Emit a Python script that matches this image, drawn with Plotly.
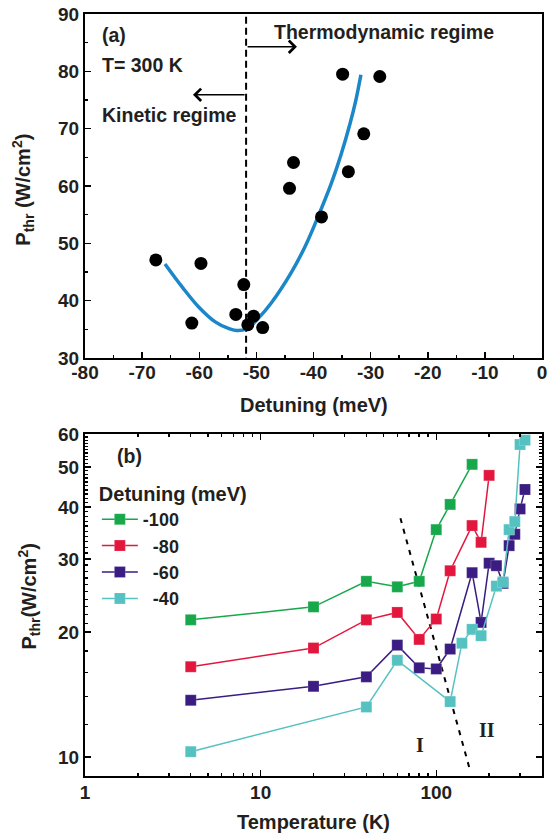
import numpy as np
import plotly.graph_objects as go

# ---------------- Panel (a) data ----------------
detuning_pts = [-67.6, -59.7, -61.3, -52.2, -53.6, -51.5, -50.5, -48.9, -44.2, -43.5, -38.6, -34.9, -33.9, -31.2, -28.4]
pthr_pts = [47.1, 46.5, 36.1, 42.8, 37.6, 35.8, 37.3, 35.3, 59.6, 64.1, 54.6, 79.5, 62.5, 69.1, 79.1]

fit_x = [-66.0, -63.0, -60.1, -57.2, -55.0, -53.5, -51.7, -49.6, -47.4, -43.9, -41.3, -39.1, -36.9, -35.2, -33.6, -32.6, -31.7]
fit_y = [46.4, 42.4, 38.9, 36.3, 35.2, 34.8, 35.1, 37.0, 39.6, 44.9, 49.8, 54.9, 60.4, 65.4, 70.9, 74.9, 79.4]

boundary_a_x = [-51.8, -51.8]
boundary_a_y = [89.5, 30.0]

# ---------------- Panel (b) data ----------------
temps_100 = [4, 20, 40, 60, 80, 100, 120, 160]
p_100 = [21.4, 23.0, 26.5, 25.7, 26.5, 35.3, 40.6, 50.7]
temps_80 = [4, 20, 40, 60, 80, 100, 120, 160, 180, 200]
p_80 = [16.5, 18.3, 21.4, 22.3, 19.2, 21.5, 28.1, 36.1, 32.9, 47.7]
temps_60 = [4, 20, 40, 60, 80, 100, 120, 160, 180, 200, 220, 240, 260, 280, 300, 320]
p_60 = [13.7, 14.8, 15.6, 18.6, 16.4, 16.3, 18.2, 27.8, 21.1, 29.3, 28.9, 26.2, 32.3, 34.4, 39.6, 44.1]
temps_40 = [4, 40, 60, 120, 140, 160, 180, 220, 240, 260, 280, 300, 320]
p_40 = [10.3, 13.2, 17.1, 13.6, 18.8, 20.3, 19.6, 25.8, 26.4, 35.3, 36.9, 56.6, 58.0]

series_names = ["-100", "\u00a0\u00a0-80", "\u00a0\u00a0-60", "\u00a0\u00a0-40"]
series_colors = ["#17a84b", "#e3173d", "#3a1c82", "#55c1c1"]

boundary_b_T = [62.5, 154.0]
boundary_b_P = [37.6, 9.45]

x_ticks_a = [-80, -70, -60, -50, -40, -30, -20, -10, 0]
y_ticks_a = [30, 40, 50, 60, 70, 80, 90]
x_ticks_b = [1, 10, 100]
x_minor_b = [2, 3, 4, 5, 6, 7, 8, 9, 20, 30, 40, 50, 60, 70, 80, 90, 200, 300, 400]
y_ticks_b = [10, 20, 30, 40, 50, 60]
y_minor_b = [12, 14, 16, 18] + [v for v in range(21, 60) if v % 10 != 0]

FONT = "Liberation Sans, Arial, sans-serif"
TXT = "#231f20"

W, H = 550, 836
L, R, T, B = 85, 3, 14, 60
PW = W - L - R          # 462
PH = H - T - B          # 762
SCR_BOTTOM = H - B      # 776


def px_to_paper_y(y):
    return (SCR_BOTTOM - y) / PH


def px_to_paper_x(x):
    return (x - L) / PW


def bold(v):
    return "<b>%s</b>" % v


fig = go.Figure()

# panel (a)
fig.add_trace(go.Scatter(x=boundary_a_x, y=boundary_a_y, mode="lines",
                         line=dict(color="black", width=2, dash="7px,4px"),
                         xaxis="x", yaxis="y", showlegend=False))
fig.add_trace(go.Scatter(x=fit_x, y=fit_y, mode="lines", line_shape="spline",
                         line=dict(color="#1b87c8", width=3.5, smoothing=1.0),
                         xaxis="x", yaxis="y", showlegend=False))
fig.add_trace(go.Scatter(x=detuning_pts, y=pthr_pts, mode="markers",
                         marker=dict(color="black", size=13),
                         xaxis="x", yaxis="y", showlegend=False))

# panel (b)
fig.add_trace(go.Scatter(x=boundary_b_T, y=boundary_b_P, mode="lines",
                         line=dict(color="black", width=2, dash="5px,6px"),
                         xaxis="x2", yaxis="y2", showlegend=False))
for Tv, Pv, name, col in zip([temps_100, temps_80, temps_60, temps_40],
                             [p_100, p_80, p_60, p_40], series_names, series_colors):
    fig.add_trace(go.Scatter(x=Tv, y=Pv, mode="lines+markers", name=name,
                             line=dict(color=col, width=1.5),
                             marker=dict(symbol="square", size=11, color=col,
                                         line=dict(color="rgba(255,255,255,0.35)", width=0.6)),
                             xaxis="x2", yaxis="y2"))

axis_common = dict(showline=True, linecolor="black", linewidth=2, ticks="inside",
                   ticklen=6, tickwidth=1.5, tickcolor="black", showgrid=False,
                   zeroline=False, ticklabeloverflow="allow",
                   tickfont=dict(family=FONT, size=19, color=TXT))

D_TOP_B = (SCR_BOTTOM - 434) / PH
D_BOT_A = (SCR_BOTTOM - 358) / PH

fig.update_layout(
    width=W, height=H,
    margin=dict(l=L, r=R, t=T, b=B),
    paper_bgcolor="white", plot_bgcolor="white",
    font=dict(family=FONT, color=TXT),
    hovermode=False,
    xaxis=dict(domain=[0, 1], anchor="y", range=[-80, 0], tickmode="array", tickvals=x_ticks_a,
               ticktext=[bold(v) for v in x_ticks_a], ticklabelstandoff=-4,
               mirror=True, minor=dict(dtick=5, tick0=-80, ticks="inside", ticklen=3, tickwidth=1.5, tickcolor="black"),
               **axis_common),
    yaxis=dict(domain=[D_BOT_A, 1], anchor="x", range=[30, 90], tickmode="array", tickvals=y_ticks_a,
               ticktext=[bold(v) for v in y_ticks_a],
               mirror=True, minor=dict(dtick=5, tick0=30, ticks="inside", ticklen=3, tickwidth=1.5, tickcolor="black"),
               **axis_common),
    xaxis2=dict(domain=[0, 1], anchor="y2", type="log", range=[0, np.log10(400)],
                tickmode="array", tickvals=x_ticks_b, ticktext=[bold(v) for v in x_ticks_b], mirror="ticks",
                ticklabelstandoff=-2,
                minor=dict(tickmode="array", tickvals=x_minor_b, ticks="inside", ticklen=3, tickwidth=1.5, tickcolor="black"),
                **axis_common),
    yaxis2=dict(domain=[0, D_TOP_B], anchor="x2", type="log", range=[np.log10(9), np.log10(60)],
                tickmode="array", tickvals=y_ticks_b, ticktext=[bold(v) for v in y_ticks_b], mirror="ticks",
                minor=dict(tickmode="array", tickvals=y_minor_b, ticks="inside", ticklen=3, tickwidth=1.2, tickcolor="black"),
                **axis_common),
    legend=dict(x=px_to_paper_x(97), y=px_to_paper_y(475), xanchor="left", yanchor="top",
                bgcolor="rgba(0,0,0,0)", borderwidth=0, itemwidth=36,
                font=dict(family=FONT, size=18, color=TXT, weight="bold"),
                title=dict(text="<b>Detuning (meV)</b>", font=dict(family=FONT, size=20, color=TXT))),
)

tfont = dict(family=FONT, size=19.5, color=TXT)
ann = []
# panel (a) texts
ann.append(dict(x=-77.3, y=86.3, xref="x", yref="y", text=bold("(a)"), showarrow=False, xanchor="left", yanchor="middle", font=tfont))
ann.append(dict(x=-77.3, y=81.1, xref="x", yref="y", text=bold("T= 300 K"), showarrow=False, xanchor="left", yanchor="middle", font=tfont))
ann.append(dict(x=-77.3, y=72.4, xref="x", yref="y", text=bold("Kinetic regime"), showarrow=False, xanchor="left", yanchor="middle", font=tfont))
ann.append(dict(x=-47.2, y=86.9, xref="x", yref="y", text=bold("Thermodynamic regime"), showarrow=False, xanchor="left", yanchor="middle", font=tfont))
# arrows
ann.append(dict(x=-42.9, y=84.3, ax=-51.8, ay=84.3, xref="x", yref="y", axref="x", ayref="y",
                text="", showarrow=True, arrowhead=4, arrowsize=1.6, arrowwidth=1.5, arrowcolor="black"))
ann.append(dict(x=-61.1, y=75.9, ax=-51.8, ay=75.9, xref="x", yref="y", axref="x", ayref="y",
                text="", showarrow=True, arrowhead=4, arrowsize=1.6, arrowwidth=1.5, arrowcolor="black"))
# panel (b) texts
ann.append(dict(x=np.log10(1.48), y=np.log10(53), xref="x2", yref="y2", text=bold("(b)"), showarrow=False, xanchor="left", yanchor="middle", font=tfont))
serif = dict(family="Liberation Serif, Times New Roman, serif", size=20, color=TXT)
ann.append(dict(x=np.log10(81), y=np.log10(10.7), xref="x2", yref="y2", text=bold("I"), showarrow=False, xanchor="center", yanchor="middle", font=serif))
ann.append(dict(x=np.log10(195), y=np.log10(11.6), xref="x2", yref="y2", text=bold("II"), showarrow=False, xanchor="center", yanchor="middle", font=serif))
# axis titles
title_font = dict(family=FONT, size=20, color=TXT)
ann.append(dict(x=0.5, y=px_to_paper_y(405), xref="paper", yref="paper", text=bold("Detuning (meV)"), showarrow=False,
                xanchor="center", yanchor="middle", font=title_font))
ann.append(dict(x=0.5, y=px_to_paper_y(822), xref="paper", yref="paper", text=bold("Temperature (K)"), showarrow=False,
                xanchor="center", yanchor="middle", font=title_font))
ann.append(dict(x=px_to_paper_x(22), y=px_to_paper_y(190), xref="paper", yref="paper",
                text="<b>P<sub>thr</sub> (W/cm<sup>2</sup>)</b>", textangle=-90, showarrow=False,
                xanchor="center", yanchor="middle", font=title_font))
ann.append(dict(x=px_to_paper_x(28), y=px_to_paper_y(597), xref="paper", yref="paper",
                text="<b>P<sub>thr</sub>(W/cm<sup>2</sup>)</b>", textangle=-90, showarrow=False,
                xanchor="center", yanchor="middle", font=title_font))
fig.update_layout(annotations=ann)

# remove the default 8px page margin so the 550x836 figure fills the window exactly
fig.write_html("out.html", config={"displayModeBar": False, "staticPlot": True},
               post_script="document.body.style.margin='0';document.body.style.overflow='hidden';")
